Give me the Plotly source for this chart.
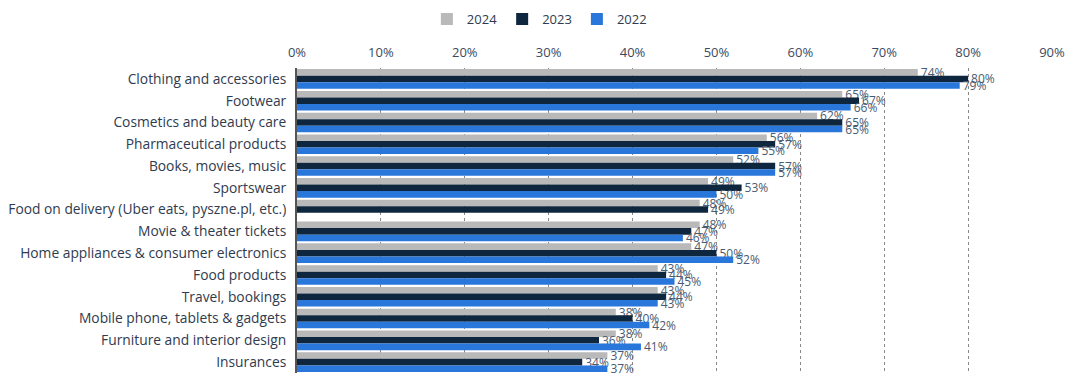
import plotly.graph_objects as go

categories = [
    "Clothing and accessories",
    "Footwear",
    "Cosmetics and beauty care",
    "Pharmaceutical products",
    "Books, movies, music",
    "Sportswear",
    "Food on delivery (Uber eats, pyszne.pl, etc.)",
    "Movie & theater tickets",
    "Home appliances & consumer electronics",
    "Food products",
    "Travel, bookings",
    "Mobile phone, tablets & gadgets",
    "Furniture and interior design",
    "Insurances",
]
values_2024 = [74, 65, 62, 56, 52, 49, 48, 48, 47, 43, 43, 38, 38, 37]
values_2023 = [80, 67, 65, 57, 57, 53, 49, 47, 50, 44, 44, 40, 36, 34]
values_2022 = [79, 66, 65, 55, 57, 50, None, 46, 52, 45, 43, 42, 41, 37]
tick_vals = [0, 10, 20, 30, 40, 50, 60, 70, 80, 90]
tick_text = ["0%", "10%", "20%", "30%", "40%", "50%", "60%", "70%", "80%", "90%"]

series = [
    ("2024", values_2024, "#b9b9b9"),
    ("2023", values_2023, "#0f263f"),
    ("2022", values_2022, "#2a77dc"),
]

fig = go.Figure()
for name, vals, color in series:
    fig.add_trace(go.Bar(
        y=categories, x=vals, name=name, orientation="h",
        marker=dict(color=color, line=dict(width=0)),
        text=[f"{v}%" if v is not None else "" for v in vals],
        textposition="outside",
        constraintext="none",
        textfont=dict(size=12, color="#4a5a70", family="Open Sans"),
        cliponaxis=False,
    ))

fig.update_layout(
    width=1080, height=386,
    barmode="group", bargap=0.1, bargroupgap=0,
    paper_bgcolor="white", plot_bgcolor="white",
    font=dict(family="Open Sans", size=13, color="#2f3b4e"),
    margin=dict(l=289, r=36, t=60, b=21),
    legend=dict(orientation="h", x=0.492, xanchor="center", xref="container",
                y=1 - 11 / 386, yanchor="middle", yref="container",
                font=dict(size=13, color="#2f3b4e"),
                itemwidth=30, traceorder="normal"),
    showlegend=True,
)
fig.update_xaxes(
    side="top", range=[0, 90], tickvals=tick_vals, ticktext=tick_text,
    showgrid=True, gridcolor="#888888", griddash="dot", gridwidth=1,
    zeroline=False, showline=False, ticks="", automargin=False,
    ticklabelstandoff=7,
    tickfont=dict(size=13, color="#3c4a60"),
)
fig.update_yaxes(
    autorange="reversed", showline=True, linecolor="#555555", linewidth=2,
    ticks="", automargin=False, ticklabelstandoff=6,
    tickfont=dict(size=13.8, color="#2f3b4e"),
)

fig.write_html("out.html")
